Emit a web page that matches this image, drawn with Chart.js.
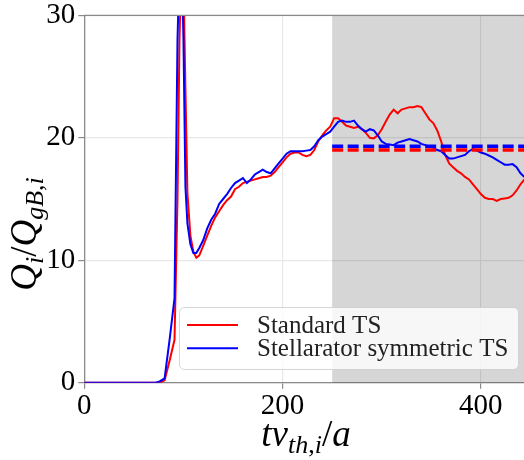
<!DOCTYPE html>
<html lang="en">
<head>
<meta charset="UTF-8" />
<title>Ion heat flux</title>
<script src="https://cdn.jsdelivr.net/npm/chart.js"></script>
<style>
  html, body { margin: 0; padding: 0; background: #fff; overflow: hidden; }
  canvas { display: block; }
</style>
</head>
<body>
<canvas id="fluxChart" width="524" height="460"></canvas>
<script>
  // values
  const times = [0, 72, 76, 81, 86, 91, 94, 96, 98, 100, 102, 104, 107, 110, 113, 116,
    120, 124, 128, 132, 136, 140, 144, 148, 152, 156, 160, 164, 168, 172, 176, 180,
    184, 188, 192, 196, 200, 204, 208, 212, 216, 220, 224, 228, 232, 236, 240, 244,
    248, 252, 256, 260, 264, 268, 272, 276, 280, 284, 288, 292, 296, 300, 304, 308,
    312, 316, 320, 324, 328, 332, 336, 340, 344, 348, 352, 356, 360, 364, 368, 372,
    376, 380, 384, 388, 392, 396, 400, 404, 408, 412, 416, 420, 424, 428, 432, 436,
    440, 444];
  const standardTS = [0, 0, 0, 0.2, 1.8, 3.5, 15, 28, 34, 33, 24, 15.5, 12, 10.7, 10.2, 10.4,
    11.2, 12.0, 12.8, 13.5, 14.0, 14.5, 14.9, 15.2, 15.8, 16.0, 16.3, 16.4, 16.5, 16.6, 16.7, 16.8,
    16.8, 16.9, 17.2, 17.6, 18.0, 18.4, 18.7, 18.8, 18.8, 18.6, 18.5, 18.6, 19.0, 19.7, 20.2, 20.6,
    20.9, 21.6, 21.6, 21.3, 21.0, 20.9, 20.8, 20.9, 20.7, 20.4, 20.0, 19.95, 20.2, 20.7, 21.3, 21.9,
    22.3, 22.0, 22.3, 22.4, 22.5, 22.5, 22.6, 22.5, 22.0, 21.5, 21.2, 20.6, 19.7, 18.6, 17.9, 17.6,
    17.3, 17.1, 16.8, 16.6, 16.2, 15.8, 15.4, 15.1, 15.0, 15.0, 14.85, 15.0, 15.05, 15.1, 15.3, 15.7,
    16.2, 16.6];
  const stellSymTS = [0, 0, 0.1, 0.35, 3.5, 6.9, 28, 34, 36, 28, 16, 13, 11.3, 10.6, 10.6, 11.0,
    11.65, 12.6, 13.3, 13.8, 14.6, 15.0, 15.4, 15.9, 16.3, 16.5, 16.7, 16.3, 16.6, 17.0, 17.2, 17.4,
    17.2, 17.1, 17.5, 17.9, 18.3, 18.7, 18.9, 18.9, 18.9, 18.9, 18.95, 19.0, 19.3, 19.8, 20.1, 20.3,
    20.5, 20.9, 21.3, 21.4, 21.3, 21.3, 21.4, 21.0, 20.7, 20.5, 20.7, 20.6, 20.2, 19.7, 19.5, 19.45,
    19.4, 19.6, 19.7, 19.8, 19.9, 19.8, 19.7, 19.5, 19.4, 19.3, 19.2, 19.0, 18.9, 18.6, 18.3, 18.3,
    18.4, 18.5, 18.6, 18.9, 19.1, 18.95, 18.8, 18.7, 18.55, 18.4, 18.2, 18.0, 17.8, 17.8, 17.85, 17.6,
    17.1, 16.8];
  const avgWindow = [250, 443.5];
  const standardAvg = [19.0, 19.0];
  const stellSymAvg = [19.3, 19.3];
  const xTicks = [0, 200, 400];
  const yTicks = [0, 10, 20, 30];
  const seriesLabels = ['Standard TS', 'Stellarator symmetric TS'];

  const RED = '#ff0000', BLUE = '#0000ff';
  const SPINE = '#8a8a8a';
  const SERIF = "'Liberation Serif', 'DejaVu Serif', serif";

  const pts = (xs, ys) => xs.map((x, i) => ({ x: x, y: ys[i] }));

  // draws a run of pieces like Q, subscript i, / ... on one baseline
  function drawMath(ctx, parts, cx, baseY) {
    const big = 37, small = 26;
    const fontOf = p => (p.it ? 'italic ' : '') + (p.sub ? small : big) + 'px ' + SERIF;
    let total = 0;
    parts.forEach(p => { ctx.font = fontOf(p); total += ctx.measureText(p.t).width; });
    let x = cx - total / 2;
    ctx.textAlign = 'left';
    ctx.textBaseline = 'alphabetic';
    ctx.fillStyle = '#000';
    parts.forEach(p => {
      ctx.font = fontOf(p);
      ctx.fillText(p.t, x, baseY + (p.sub ? 7 : 0));
      x += ctx.measureText(p.t).width;
    });
  }

  const decorations = {
    id: 'decorations',
    beforeDatasetsDraw(chart) {
      const { ctx, chartArea, scales } = chart;
      const x0 = scales.x.getPixelForValue(avgWindow[0]);
      ctx.save();
      ctx.fillStyle = 'rgba(0,0,0,0.16)';
      ctx.fillRect(x0, chartArea.top, chartArea.right - x0, chartArea.bottom - chartArea.top);
      ctx.restore();
    },
    afterDatasetsDraw(chart) {
      const { ctx, chartArea } = chart;
      ctx.save();
      // top spine
      ctx.strokeStyle = SPINE;
      ctx.lineWidth = 1.3;
      ctx.beginPath();
      ctx.moveTo(chartArea.left, chartArea.top);
      ctx.lineTo(chartArea.right, chartArea.top);
      ctx.stroke();

      // legend
      const bx = 179.5, by = 307.5, bw = 339, bh = 62, r = 5;
      ctx.beginPath();
      ctx.roundRect(bx, by, bw, bh, r);
      ctx.fillStyle = 'rgba(255,255,255,0.8)';
      ctx.fill();
      ctx.strokeStyle = 'rgba(204,204,204,0.8)';
      ctx.lineWidth = 1;
      ctx.stroke();
      const colors = [RED, BLUE];
      ctx.font = '25px ' + SERIF;
      ctx.textBaseline = 'middle';
      ctx.textAlign = 'left';
      seriesLabels.forEach((lab, i) => {
        const y = 325 + i * 23.3;
        ctx.strokeStyle = colors[i];
        ctx.lineWidth = 2;
        ctx.beginPath();
        ctx.moveTo(187, y);
        ctx.lineTo(238, y);
        ctx.stroke();
        ctx.fillStyle = '#222';
        ctx.fillText(lab, 257, y + 1);
      });

      // axis titles
      drawMath(ctx, [
        { t: 't', it: true }, { t: 'v', it: true },
        { t: 'th', it: true, sub: true }, { t: ',', sub: true }, { t: 'i', it: true, sub: true },
        { t: '/' }, { t: 'a', it: true }
      ], 306, 446);
      ctx.translate(36, 234);
      ctx.rotate(-Math.PI / 2);
      drawMath(ctx, [
        { t: 'Q', it: true }, { t: 'i', it: true, sub: true },
        { t: '/' }, { t: 'Q', it: true },
        { t: 'gB', it: true, sub: true }, { t: ',', sub: true }, { t: 'i', it: true, sub: true }
      ], 0, 0);
      ctx.restore();
    }
  };

  const lineSet = (data, color, extra) => Object.assign({
    data: data,
    borderColor: color,
    backgroundColor: color,
    borderWidth: 2,
    pointRadius: 0,
    fill: false,
    tension: 0,
    clip: 0
  }, extra || {});

  new Chart(document.getElementById('fluxChart'), {
    type: 'line',
    data: {
      datasets: [
        lineSet(pts(avgWindow, stellSymAvg), BLUE, { borderWidth: 3.5, borderDash: [11, 4.5] }),
        lineSet(pts(avgWindow, standardAvg), RED, { borderWidth: 3.5, borderDash: [11, 4.5] }),
        lineSet(pts(times, stellSymTS), BLUE, { label: seriesLabels[1] }),
        lineSet(pts(times, standardTS), RED, { label: seriesLabels[0] })
      ]
    },
    options: {
      responsive: false,
      animation: false,
      layout: { padding: { top: 15.3, right: 0, bottom: 0, left: 0 } },
      plugins: { legend: { display: false }, tooltip: { enabled: false } },
      scales: {
        x: {
          type: 'linear',
          min: 0,
          max: avgWindow[1],
          afterBuildTicks: s => { s.ticks = xTicks.map(v => ({ value: v })); },
          afterFit: s => { s.height = 77.3; s.paddingLeft = 0; s.paddingRight = 0; },
          ticks: { color: '#000', font: { family: SERIF, size: 29 }, padding: 0, maxRotation: 0 },
          grid: { color: '#e8e8e8', tickColor: SPINE, tickLength: 6, lineWidth: 1.2 },
          border: { color: SPINE, width: 1.3 }
        },
        y: {
          min: 0,
          max: 30,
          afterBuildTicks: s => { s.ticks = yTicks.map(v => ({ value: v })); },
          afterFit: s => { s.width = 84.3; s.paddingTop = 0; s.paddingBottom = 0; },
          ticks: { color: '#000', font: { family: SERIF, size: 29 }, padding: 3 },
          grid: { color: '#e8e8e8', tickColor: SPINE, tickLength: 6, lineWidth: 1.2 },
          border: { color: SPINE, width: 1.3 }
        }
      }
    },
    plugins: [decorations]
  });
</script>
</body>
</html>
